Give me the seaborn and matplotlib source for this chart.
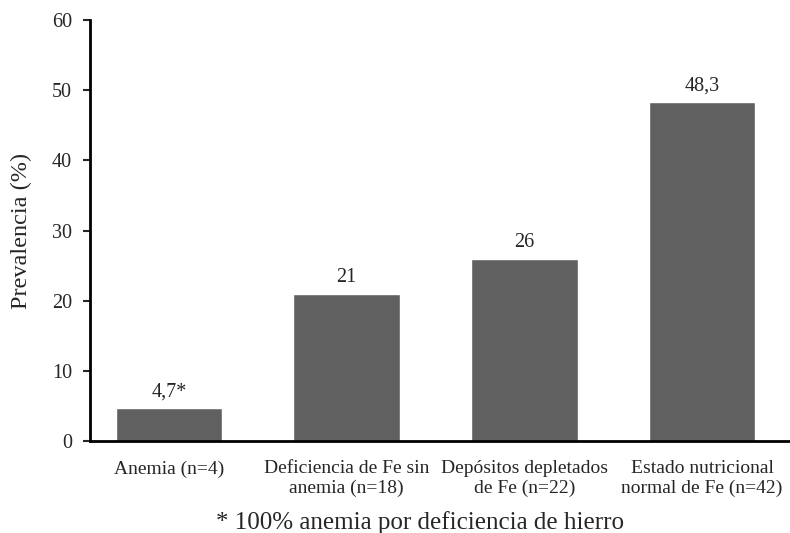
import matplotlib
matplotlib.use('Agg')
import matplotlib.pyplot as plt
import seaborn as sns
import pandas as pd

categorias = ['Anemia (n=4)', 'Deficiencia de Fe sin\nanemia (n=18)',
              'Depósitos depletados\nde Fe (n=22)', 'Estado nutricional\nnormal de Fe (n=42)']
prevalencia = [4.7, 21, 26, 48.3]
etiquetas = ['4,7*', '21', '26', '48,3']

df = pd.DataFrame({'cat': categorias, 'prev': prevalencia})

sns.set_style('white')
plt.rcParams['font.family'] = ['Liberation Serif', 'DejaVu Serif']

fig = plt.figure(figsize=(7.9, 5.33), dpi=100)
ax = fig.add_axes([90 / 790, 92 / 533, 700 / 790, 421 / 533])
sns.barplot(data=df, x='cat', y='prev', color='#606060', saturation=1,
            width=0.6, ax=ax)

for i, (v, t) in enumerate(zip(prevalencia, etiquetas)):
    ax.text(i, v + 0.9, t, ha='center', va='bottom', fontsize=14.5)

ax.set_ylim(0, 60)
ax.set_xlim(-0.445, 3.495)
ax.set_yticks(range(0, 61, 10))
ax.set_xlabel('')
ax.set_ylabel('Prevalencia (%)', fontsize=17.5, labelpad=14)
ax.tick_params(axis='y', labelsize=14.5, length=5, width=1.5, direction='out',
               left=True, pad=8)
ax.tick_params(axis='x', labelsize=14, length=0, pad=14)
for s in ['top', 'right']:
    ax.spines[s].set_visible(False)
for s in ['left', 'bottom']:
    ax.spines[s].set_linewidth(2)
    ax.spines[s].set_color('black')

fig.text(420 / 790, 10 / 533, '* 100% anemia por deficiencia de hierro',
         ha='center', va='center', fontsize=18)

fig.savefig('out.png', dpi=100)
